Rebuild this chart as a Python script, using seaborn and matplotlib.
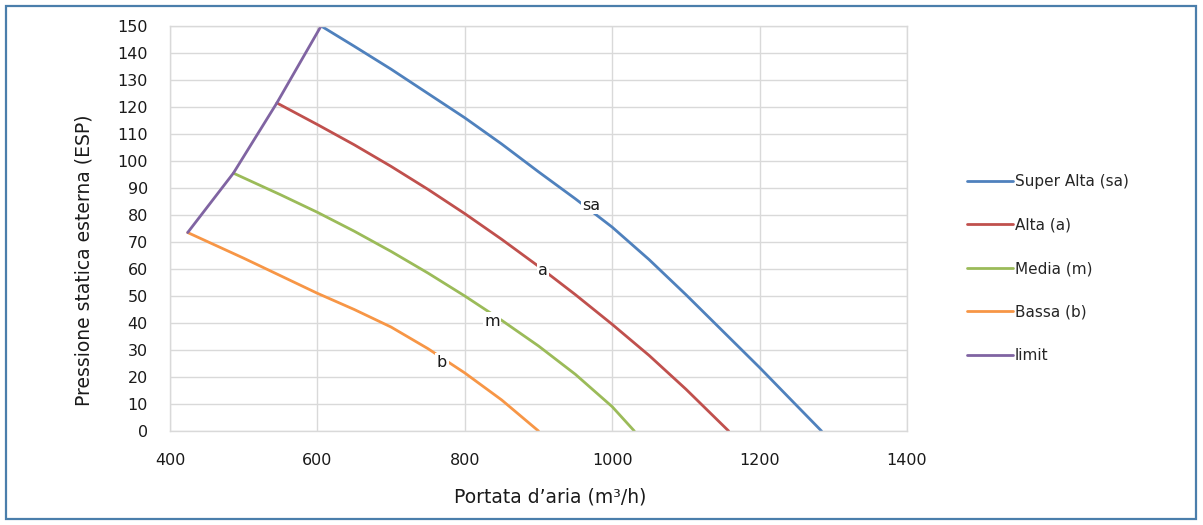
import matplotlib
matplotlib.use("Agg")
import matplotlib.pyplot as plt
import seaborn as sns
import pandas as pd
from matplotlib.patches import Rectangle

# ---- data ----
sa_x = [605, 650, 700, 750, 800, 850, 900, 950, 1000, 1050, 1100, 1150, 1200, 1250, 1284]
sa_y = [150, 142.5, 134, 125, 116, 106.3, 96, 86, 75.5, 63.5, 50.5, 37, 23.5, 9.5, 0]

a_x = [545, 600, 650, 700, 750, 800, 850, 900, 950, 1000, 1050, 1100, 1158]
a_y = [121.5, 113.5, 106, 98, 89.5, 80.5, 71, 61, 50.5, 39.5, 28, 15.5, 0]

m_x = [486, 550, 600, 650, 700, 750, 800, 850, 900, 950, 1000, 1030]
m_y = [95.5, 87.5, 81, 74, 66.5, 58.5, 50, 41, 31.5, 21, 9, 0]

b_x = [424, 500, 550, 600, 650, 700, 750, 800, 850, 900]
b_y = [73.5, 64, 57.5, 51, 45, 38.5, 30.5, 21.5, 11.5, 0]

limit_x = [424, 486, 545, 605]
limit_y = [73.5, 95.5, 121.5, 150]

series_names = ["Super Alta (sa)", "Alta (a)", "Media (m)", "Bassa (b)", "limit"]
series_colors = ["#4F81BD", "#C0504D", "#9BBB59", "#F79646", "#8064A2"]

curve_labels = ["sa", "a", "m", "b"]
curve_label_x = [972, 906, 837, 769]
curve_label_y = [83.5, 59.6, 40.7, 25.5]

x_ticks = [400, 600, 800, 1000, 1200, 1400]
y_ticks = list(range(0, 151, 10))

data = [(sa_x, sa_y), (a_x, a_y), (m_x, m_y), (b_x, b_y), (limit_x, limit_y)]

sns.set_theme(style="white")
plt.rcParams["font.family"] = ["DejaVu Sans"]

fig = plt.figure(figsize=(12.03, 5.25), dpi=100)
ax = fig.add_axes([170 / 1203, 1 - 431 / 525, (907 - 170) / 1203, (431 - 26) / 525])

for (xs, ys), name, col in zip(data, series_names, series_colors):
    df = pd.DataFrame({"x": xs, "y": ys})
    sns.lineplot(data=df, x="x", y="y", ax=ax, color=col, linewidth=2.0,
                 sort=False, estimator=None, label=name)

ax.set_xlim(400, 1400)
ax.set_ylim(0, 150)
ax.set_xticks(x_ticks)
ax.set_yticks(y_ticks)
ax.grid(True, color="#d9d9d9", linewidth=1.0)
ax.set_axisbelow(True)
for s in ax.spines.values():
    s.set_color("#d9d9d9")
    s.set_linewidth(1.0)
ax.tick_params(axis="both", length=0, labelsize=11.5, colors="#1a1a1a")
ax.tick_params(axis="x", pad=16)
ax.tick_params(axis="y", pad=16)

ax.set_xlabel("Portata d\u2019aria (m\u00b3/h)", fontsize=13.5, color="#1a1a1a", va="center")
ax.set_ylabel("Pressione statica esterna (ESP)", fontsize=13.5, color="#1a1a1a", va="center")
ax.xaxis.set_label_coords(0.516, -0.163)
ax.yaxis.set_label_coords(-0.117, 0.422)

for t, lx, ly in zip(curve_labels, curve_label_x, curve_label_y):
    ax.text(lx, ly, t, fontsize=11.5, ha="center", va="center", color="#1a1a1a",
            bbox=dict(facecolor="white", edgecolor="none", pad=1.0), zorder=5)

handles, labels = ax.get_legend_handles_labels()
ax.legend(handles, labels, loc="upper left",
          bbox_to_anchor=(967 / 1203, 1 - 174 / 525), bbox_transform=fig.transFigure,
          frameon=False, fontsize=11, handlelength=3.0, handletextpad=0.15,
          labelspacing=1.87, borderpad=0, borderaxespad=0)

# outer blue border
fig.patches.append(Rectangle((6 / 1203, 6 / 525), 1190 / 1203, 513 / 525,
                             transform=fig.transFigure, fill=False,
                             edgecolor="#4a7eab", linewidth=1.6))

fig.savefig("out.png", dpi=100)
